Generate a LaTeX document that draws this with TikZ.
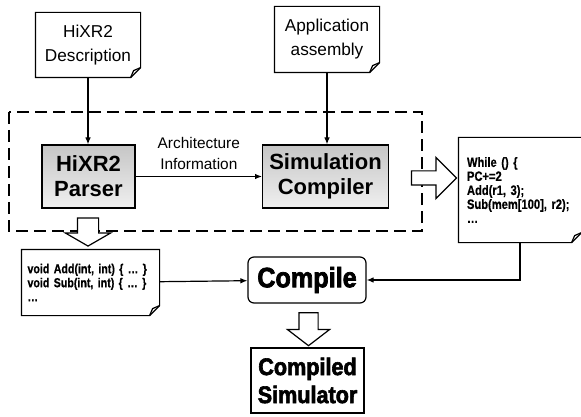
\documentclass[tikz,border=0pt]{standalone}
\usepackage{fontspec}
\setmainfont{Liberation Sans}
\newfontfamily\codefont[BoldFeatures={FakeStretch=0.82,FakeBold=0.6}]{Liberation Sans}
\newfontfamily\heavyfont[BoldFeatures={FakeStretch=0.9,FakeBold=2.5}]{Liberation Sans}
\usetikzlibrary{arrows.meta,shapes.arrows}

\begin{document}
\begin{tikzpicture}[x=0.5pt,y=-0.5pt,line width=0.6pt,
  arr/.style={-{Latex[length=3.5pt,width=2.8pt]}},
  docbox/.style={inner sep=0pt,align=center,font=\fontsize{8.6}{12}\selectfont},
  toolbox/.style={draw,top color=gray!45,bottom color=gray!12,align=center,
    font=\fontsize{11}{12.5}\selectfont\bfseries},
  codebox/.style={align=left,inner ysep=0pt,font=\codefont\bfseries\fontsize{6.8}{7}\selectfont},
  bigarrow/.style={draw,fill=white,single arrow,inner xsep=0pt,minimum width=0pt}]
\useasboundingbox (0,0) rectangle (581,416);
% inputs
\node[docbox,minimum width=52pt,minimum height=32pt] (desc) at (88,45) {HiXR2\\Description};
\node[docbox,minimum width=52pt,minimum height=32.5pt] (app) at (327,39.5) {Application\\assembly};
% simulator generator
\draw[dash pattern=on 6pt off 3pt,line width=0.9pt] (9,112) rectangle (422,231);
\node[toolbox,minimum width=46.5pt,minimum height=31.5pt] (parser) at (88.5,176.5) {HiXR2\\Parser};
\node[toolbox,minimum width=62.5pt,minimum height=31.5pt] (simc) at (325.5,176.5) {Simulation\\Compiler};
% generated code
\node[codebox,text width=53pt,inner xsep=4pt,minimum height=52pt] (simcode) at (520,190)
  {While () \{\\PC+=2\\Add(r1, 3);\\Sub(mem[100], r2);\\\dots};
\node[codebox,text width=63pt,inner xsep=2.75pt,minimum height=32.5pt,
  font=\codefont\bfseries\fontsize{6.5}{7}\selectfont] (srccode) at (90.5,282.5)
  {void Add(int, int) \{ \dots\ \}\\void Sub(int, int) \{ \dots\ \}\\\dots};
% outputs
\node[draw,rounded corners=3pt,minimum width=59pt,minimum height=23pt,
  font=\heavyfont\bfseries\fontsize{14}{14}\selectfont] (compile) at (307,280) {Compile};
\node[draw,minimum width=55.5pt,minimum height=32.5pt,align=center,
  font=\heavyfont\bfseries\fontsize{12}{14}\selectfont] (simulator) at (307.5,380.5) {Compiled\\Simulator};
% document outlines with folded corner
\foreach \n in {desc,app,simcode,srccode} {
  \draw (\n.north west) -- (\n.north east) -- ([yshift=5pt]\n.south east)
    -- ([xshift=-5pt]\n.south east) -- (\n.south west) -- cycle;
  \draw ([xshift=-5pt]\n.south east) -- ([xshift=-3.5pt,yshift=3.5pt]\n.south east)
    -- ([yshift=5pt]\n.south east);
}
% connectors
\draw[arr] (desc.south) -- (desc.south |- parser.north);
\draw[arr] (app.south) -- (app.south |- simc.north);
\draw[arr] (parser) -- node[above,align=center,font=\fontsize{7.7}{10.5}\selectfont] (arch)
  {Architecture\\Information} (simc);
\draw[arr] (srccode) -- (compile);
\draw[arr] (simcode.south) |- (compile.east);
% block arrows
\node[bigarrow,inner ysep=3.25pt,single arrow head extend=6.75pt,minimum height=22.5pt] (toright) at (430.5,178) {};
\node[bigarrow,rotate=-90,inner ysep=5pt,single arrow head extend=6pt,minimum height=14pt,
  single arrow tip angle=120] (todown) at (88,229) {};
\node[bigarrow,rotate=-90,inner ysep=4.5pt,single arrow head extend=5.75pt,minimum height=16.5pt,
  single arrow tip angle=105] (tosim) at (308.5,325.5) {};
\end{tikzpicture}
\end{document}
